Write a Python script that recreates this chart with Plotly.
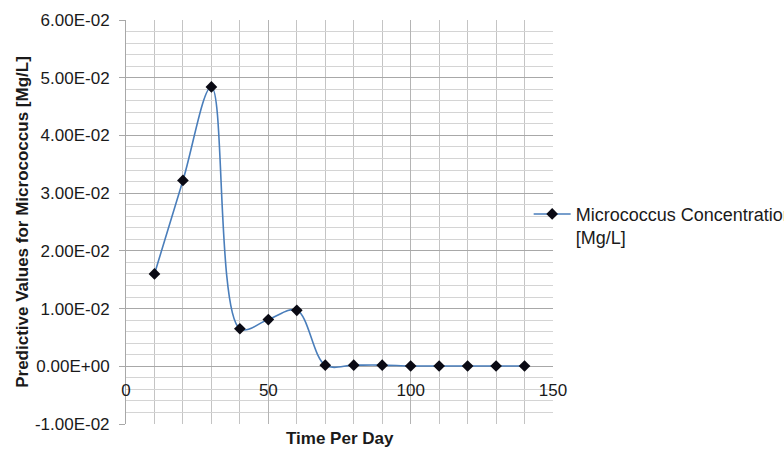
import plotly.graph_objects as go

days = [10, 20, 30, 40, 50, 60, 70, 80, 90, 100, 110, 120, 130, 140]
concentration = [0.0160, 0.0322, 0.0484, 0.0065, 0.0081, 0.0097, 0.0002, 0.0002, 0.0002,
                 0.00005, 0.00005, 0.00005, 0.00005, 0.00005]
series_name = "Micrococcus Concentration<br>[Mg/L]"
y_ticks = [-0.01, 0.0, 0.01, 0.02, 0.03, 0.04, 0.05, 0.06]
y_tick_text = ["-1.00E-02", "0.00E+00", "1.00E-02", "2.00E-02", "3.00E-02",
               "4.00E-02", "5.00E-02", "6.00E-02"]
x_ticks = [0, 50, 100, 150]
x_title = "Time Per Day"
y_title = "Predictive Values for Micrococcus [Mg/L]"

FONT = "Liberation Sans"
fig = go.Figure()
fig.add_trace(go.Scatter(
    x=days, y=concentration, name=series_name, mode="lines+markers",
    line=dict(color="#4A7EBB", width=1.6, shape="spline", smoothing=1.0),
    marker=dict(symbol="diamond", size=9, color="#0a0a14"),
))

ymin, ymax = -0.01, 0.06
fig.update_layout(
    width=784, height=450,
    margin=dict(l=126, r=231, t=20, b=26, autoexpand=False),
    paper_bgcolor="white", plot_bgcolor="white",
    font=dict(family=FONT, size=17, color="#1a1a1a"),
    showlegend=True,
    legend=dict(x=0.943, xanchor="left", y=0.565, yanchor="top", valign="top",
                font=dict(family=FONT, size=18, color="#1a1a1a"),
                bgcolor="rgba(0,0,0,0)", itemwidth=37),
    xaxis=dict(range=[0, 150], tickvals=x_ticks, showgrid=True, gridcolor="#b4b4b4",
               gridwidth=1, zeroline=False, showline=False,
               anchor="free", position=(0 - ymin) / (ymax - ymin),
               ticks="", ticklabelstandoff=12,
               minor=dict(dtick=10, showgrid=True, gridcolor="#c4c4c4", gridwidth=1)),
    yaxis=dict(range=[ymin, ymax], tickvals=y_ticks, ticktext=y_tick_text,
               showgrid=True, gridcolor="#a8a8a8", gridwidth=1, zeroline=False,
               showline=True, linecolor="#a8a8a8", linewidth=1,
               ticks="outside", ticklen=6, tickcolor="#a8a8a8", ticklabelstandoff=6,
               title=dict(text="<b>" + y_title + "</b>", standoff=1,
                          font=dict(family=FONT, size=17, color="#1a1a1a")),
               minor=dict(dtick=0.002, showgrid=True, gridcolor="#d4d4d4", gridwidth=1)),
    annotations=[dict(text="<b>" + x_title + "</b>", xref="paper", yref="paper",
                      x=0.5, y=0, yshift=-14, xanchor="center", yanchor="middle",
                      showarrow=False, font=dict(family=FONT, size=17, color="#1a1a1a"))],
)
fig.write_html("out.html")
